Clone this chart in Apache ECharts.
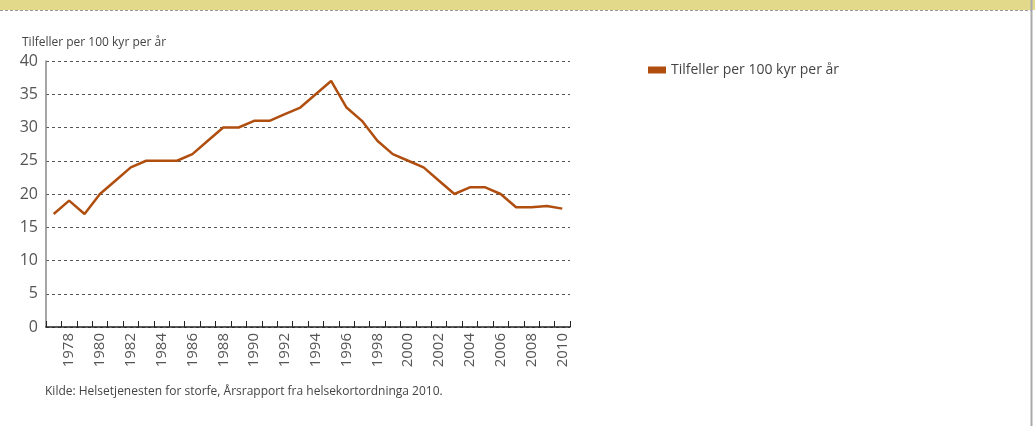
<!DOCTYPE html>
<html>
<head>
<meta charset="utf-8">
<script src="https://cdn.jsdelivr.net/npm/echarts@6/dist/echarts.min.js"></script>
<style>
html,body{margin:0;padding:0;background:#fff;}
#c{width:1035px;height:426px;}
</style>
</head>
<body>
<div id="c"></div>
<script>
const years = ['1977','1978','1979','1980','1981','1982','1983','1984','1985','1986','1987','1988','1989','1990','1991','1992','1993','1994','1995','1996','1997','1998','1999','2000','2001','2002','2003','2004','2005','2006','2007','2008','2009','2010'];
const cases = [17,19,17,20,22,24,25,25,25,26,28,30,30,31,31,32,33,35,37,33,31,28,26,25,24,22,20,21,21,20,18,18,18.2,17.8];
const seriesName = 'Tilfeller per 100 kyr per år';
const yAxisTitle = 'Tilfeller per 100 kyr per år';
const sourceNote = 'Kilde: Helsetjenesten for storfe, Årsrapport fra helsekortordninga 2010.';
const FONT = 'Open Sans';

const chart = echarts.init(document.getElementById('c'), null, {renderer:'canvas'});
chart.setOption({
  animation:false,
  backgroundColor:'#fff',
  textStyle:{fontFamily:FONT},
  grid:{left:46,right:465,top:61,bottom:99,containLabel:false},
  legend:{
    left:643, top:58, orient:'vertical',
    itemWidth:18, itemHeight:7, icon:'rect',
    textStyle:{fontFamily:FONT,fontSize:14,color:'#444'},
    data:[{name:seriesName,icon:'rect'}]
  },
  xAxis:{
    type:'category', data:years, boundaryGap:true,
    axisLine:{lineStyle:{color:'#222',width:1.5}},
    axisTick:{show:true,inside:true,length:6,interval:0,lineStyle:{color:'#222'}},
    axisLabel:{rotate:90,margin:6,fontSize:15,color:'#555',fontFamily:FONT,
      interval:function(i){return i%2===1;}},
    splitLine:{show:false}
  },
  yAxis:{
    type:'value', min:0, max:40, interval:5,
    name:yAxisTitle, nameLocation:'end', nameGap:0,
    nameTextStyle:{fontFamily:FONT,fontSize:12,color:'#444',align:'left',padding:[0,0,12,-24]},
    axisLine:{show:true,lineStyle:{color:'#888',width:1.5}},
    axisTick:{show:false},
    axisLabel:{fontSize:16,color:'#555',margin:8,fontFamily:FONT},
    splitLine:{show:true,lineStyle:{color:'#555',type:[3,3],width:1}}
  },
  series:[{
    name:seriesName, type:'line', data:cases, symbol:'none',
    lineStyle:{color:'#b04e0f',width:2.5}, itemStyle:{color:'#b04e0f'}
  }],
  graphic:[
    {type:'rect',shape:{x:0,y:0,width:1035,height:10},style:{fill:'#e3d98a'},silent:true},
    {type:'line',shape:{x1:0,y1:10.5,x2:1031,y2:10.5},style:{stroke:'#999',lineWidth:1,lineDash:[3,2]},silent:true},
    {type:'line',shape:{x1:1031.5,y1:0,x2:1031.5,y2:426},style:{stroke:'#aaa',lineWidth:2},silent:true},
    {type:'text',left:45,top:386,style:{text:sourceNote,fontFamily:FONT,fontSize:12,fill:'#444'},silent:true}
  ]
});
</script>
</body>
</html>
